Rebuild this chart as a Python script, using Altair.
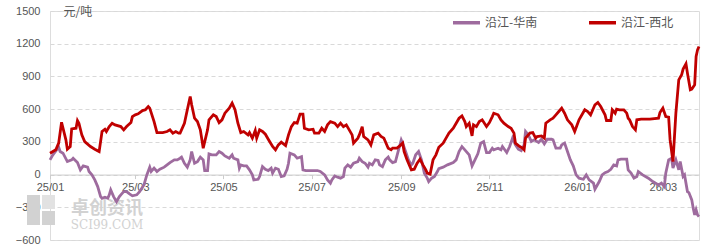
import altair as alt
import pandas as pd

# ---------------- data ----------------
series_names = ["沿江-华南", "沿江-西北"]
series_colors = ["#9E6B9E", "#C00000"]

xb_dates = [
    "2025-01-01", "2025-01-05", "2025-01-07", "2025-01-09", "2025-01-12", "2025-01-13", "2025-01-15",
    "2025-01-16", "2025-01-19", "2025-01-20", "2025-01-21", "2025-01-23", "2025-01-25", "2025-01-29",
    "2025-02-01", "2025-02-04", "2025-02-06", "2025-02-08", "2025-02-09", "2025-02-11", "2025-02-13",
    "2025-02-15", "2025-02-19", "2025-02-21", "2025-02-23", "2025-02-26", "2025-02-27", "2025-03-01",
    "2025-03-03", "2025-03-06", "2025-03-08", "2025-03-10", "2025-03-11", "2025-03-14", "2025-03-16",
    "2025-03-20", "2025-03-23", "2025-03-25", "2025-03-27", "2025-03-29", "2025-03-31", "2025-04-01",
    "2025-04-04", "2025-04-06", "2025-04-08", "2025-04-09", "2025-04-11", "2025-04-13", "2025-04-15",
    "2025-04-17", "2025-04-20", "2025-04-21", "2025-04-24", "2025-04-26", "2025-04-28", "2025-04-30",
    "2025-05-02", "2025-05-05", "2025-05-07", "2025-05-09", "2025-05-11", "2025-05-13", "2025-05-15",
    "2025-05-18", "2025-05-19", "2025-05-21", "2025-05-23", "2025-05-24", "2025-05-26", "2025-05-28",
    "2025-05-30", "2025-06-01", "2025-06-04", "2025-06-06", "2025-06-08", "2025-06-10", "2025-06-13",
    "2025-06-15", "2025-06-17", "2025-06-19", "2025-06-21", "2025-06-23", "2025-06-25", "2025-06-26",
    "2025-06-29", "2025-07-02", "2025-07-03", "2025-07-06", "2025-07-08", "2025-07-10", "2025-07-12",
    "2025-07-14", "2025-07-17", "2025-07-19", "2025-07-21", "2025-07-23", "2025-07-25", "2025-07-27",
    "2025-07-29", "2025-07-30", "2025-08-02", "2025-08-03", "2025-08-05", "2025-08-06", "2025-08-09",
    "2025-08-11", "2025-08-13", "2025-08-16", "2025-08-18", "2025-08-20", "2025-08-23", "2025-08-25",
    "2025-08-26", "2025-08-29", "2025-08-31", "2025-09-02", "2025-09-03", "2025-09-05", "2025-09-08",
    "2025-09-10", "2025-09-12", "2025-09-14", "2025-09-16", "2025-09-18", "2025-09-19", "2025-09-21",
    "2025-09-23", "2025-09-25", "2025-09-27", "2025-09-30", "2025-10-02", "2025-10-04", "2025-10-07",
    "2025-10-09", "2025-10-11", "2025-10-13", "2025-10-15", "2025-10-16", "2025-10-18", "2025-10-20",
    "2025-10-21", "2025-10-23", "2025-10-25", "2025-10-27", "2025-10-30", "2025-11-01", "2025-11-03",
    "2025-11-04", "2025-11-07", "2025-11-09", "2025-11-11", "2025-11-14", "2025-11-16", "2025-11-18",
    "2025-11-19", "2025-11-22", "2025-11-24", "2025-11-25", "2025-11-26", "2025-11-29", "2025-12-01",
    "2025-12-03", "2025-12-04", "2025-12-07", "2025-12-09", "2025-12-10", "2025-12-13", "2025-12-15",
    "2025-12-17", "2025-12-19", "2025-12-21", "2025-12-23", "2025-12-25", "2025-12-28", "2025-12-30",
    "2026-01-02", "2026-01-06", "2026-01-08", "2026-01-10", "2026-01-13", "2026-01-15", "2026-01-17",
    "2026-01-20", "2026-01-21", "2026-01-24", "2026-01-25", "2026-01-27", "2026-01-28", "2026-01-30",
    "2026-02-02", "2026-02-04", "2026-02-05", "2026-02-06", "2026-02-08", "2026-02-10", "2026-02-11",
    "2026-02-14", "2026-02-20", "2026-02-26", "2026-02-27", "2026-03-01", "2026-03-03", "2026-03-05",
    "2026-03-06", "2026-03-08", "2026-03-10", "2026-03-12", "2026-03-14", "2026-03-15", "2026-03-17",
    "2026-03-18", "2026-03-20", "2026-03-21", "2026-03-23", "2026-03-24", "2026-03-25", "2026-03-26",
]
xb_values = [
    196, 227, 288, 480, 318, 233, 257,
    419, 425, 495, 471, 364, 303, 257,
    233, 211, 395, 416, 395, 440, 471,
    456, 440, 410, 440, 477, 532, 548,
    557, 587, 594, 624, 609, 486, 385,
    385, 395, 410, 380, 395, 380, 380,
    471, 594, 716, 640, 517, 486, 410,
    242, 410, 502, 548, 532, 477, 502,
    563, 609, 655, 594, 471, 385, 395,
    364, 385, 334, 404, 334, 410, 395,
    370, 324, 257, 227, 272, 297, 266,
    364, 440, 477, 471, 554, 554, 425,
    410, 416, 380, 380, 425, 395, 456,
    486, 471, 440, 471, 440, 456, 410,
    364, 288, 334, 364, 440, 349, 318,
    272, 364, 380, 349, 334, 242, 227,
    242, 242, 263, 288, 211, 135, 43,
    49, 104, 141, 89, 43, 13, 4,
    135, 181, 250, 288, 334, 380, 425,
    471, 517, 538, 486, 440, 471, 355,
    456, 440, 486, 502, 440, 477, 532,
    563, 548, 502, 471, 440, 425, 380,
    288, 257, 242, 227, 334, 380, 385,
    334, 349, 355, 334, 471, 502, 517,
    548, 578, 609, 563, 502, 456, 395,
    502, 594, 578, 548, 640, 661, 624,
    548, 496, 496, 594, 563, 600, 594,
    594, 563, 517, 502, 440, 410, 502,
    508, 508, 517, 569, 609, 532, 526,
    318, 119, 563, 869, 915, 967, 1016,
    930, 777, 783, 823, 1083, 1144, 1174,
]

hn_dates = [
    "2025-01-01", "2025-01-03", "2025-01-07", "2025-01-08", "2025-01-10", "2025-01-13", "2025-01-16",
    "2025-01-17", "2025-01-20", "2025-01-22", "2025-01-24", "2025-01-27", "2025-01-28", "2025-01-30",
    "2025-02-01", "2025-02-03", "2025-02-05", "2025-02-06", "2025-02-08", "2025-02-10", "2025-02-11",
    "2025-02-12", "2025-02-14", "2025-02-16", "2025-02-18", "2025-02-19", "2025-02-21", "2025-02-23",
    "2025-02-25", "2025-02-27", "2025-03-02", "2025-03-04", "2025-03-07", "2025-03-09", "2025-03-11",
    "2025-03-12", "2025-03-14", "2025-03-16", "2025-03-18", "2025-03-21", "2025-03-23", "2025-03-25",
    "2025-03-28", "2025-03-30", "2025-04-01", "2025-04-02", "2025-04-04", "2025-04-06", "2025-04-08",
    "2025-04-09", "2025-04-11", "2025-04-13", "2025-04-15", "2025-04-17", "2025-04-18", "2025-04-20",
    "2025-04-21", "2025-04-23", "2025-04-26", "2025-04-28", "2025-04-30", "2025-05-02", "2025-05-05",
    "2025-05-07", "2025-05-08", "2025-05-11", "2025-05-12", "2025-05-13", "2025-05-15", "2025-05-17",
    "2025-05-19", "2025-05-21", "2025-05-22", "2025-05-25", "2025-05-26", "2025-05-28", "2025-05-30",
    "2025-06-01", "2025-06-03", "2025-06-04", "2025-06-06", "2025-06-08", "2025-06-10", "2025-06-12",
    "2025-06-14", "2025-06-15", "2025-06-16", "2025-06-19", "2025-06-21", "2025-06-24", "2025-06-25",
    "2025-06-27", "2025-07-02", "2025-07-05", "2025-07-07", "2025-07-10", "2025-07-12", "2025-07-14",
    "2025-07-15", "2025-07-17", "2025-07-19", "2025-07-21", "2025-07-23", "2025-07-24", "2025-07-26",
    "2025-07-28", "2025-07-30", "2025-08-02", "2025-08-03", "2025-08-05", "2025-08-07", "2025-08-09",
    "2025-08-10", "2025-08-12", "2025-08-14", "2025-08-16", "2025-08-17", "2025-08-19", "2025-08-21",
    "2025-08-23", "2025-08-24", "2025-08-26", "2025-08-28", "2025-08-30", "2025-09-01", "2025-09-02",
    "2025-09-04", "2025-09-06", "2025-09-08", "2025-09-09", "2025-09-11", "2025-09-13", "2025-09-15",
    "2025-09-17", "2025-09-19", "2025-09-20", "2025-09-22", "2025-09-24", "2025-09-26", "2025-09-27",
    "2025-09-30", "2025-10-03", "2025-10-07", "2025-10-09", "2025-10-11", "2025-10-13", "2025-10-15",
    "2025-10-18", "2025-10-20", "2025-10-22", "2025-10-24", "2025-10-26", "2025-10-28", "2025-10-30",
    "2025-11-01", "2025-11-03", "2025-11-04", "2025-11-07", "2025-11-09", "2025-11-10", "2025-11-13",
    "2025-11-15", "2025-11-17", "2025-11-19", "2025-11-21", "2025-11-23", "2025-11-25", "2025-11-26",
    "2025-11-28", "2025-11-30", "2025-12-02", "2025-12-05", "2025-12-07", "2025-12-09", "2025-12-11",
    "2025-12-14", "2025-12-15", "2025-12-17", "2025-12-20", "2025-12-21", "2025-12-23", "2025-12-25",
    "2025-12-27", "2025-12-29", "2025-12-31", "2026-01-02", "2026-01-05", "2026-01-07", "2026-01-09",
    "2026-01-12", "2026-01-13", "2026-01-16", "2026-01-18", "2026-01-20", "2026-01-22", "2026-01-24",
    "2026-01-26", "2026-01-28", "2026-01-29", "2026-01-31", "2026-02-04", "2026-02-05", "2026-02-07",
    "2026-02-09", "2026-02-11", "2026-02-12", "2026-02-15", "2026-02-19", "2026-02-22", "2026-02-26",
    "2026-02-28", "2026-03-02", "2026-03-03", "2026-03-05", "2026-03-07", "2026-03-08", "2026-03-10",
    "2026-03-12", "2026-03-13", "2026-03-15", "2026-03-16", "2026-03-18", "2026-03-19", "2026-03-21",
    "2026-03-22", "2026-03-23", "2026-03-24", "2026-03-25", "2026-03-26",
]
hn_values = [
    135, 181, 251, 211, 196, 119, 135,
    150, 110, 43, 80, 68, 28, -3,
    -49, -110, -202, -217, -207, -217, -186,
    -140, -202, -248, -202, -186, -156, -156,
    -177, -195, -186, -156, -95, -3, 68,
    28, 59, 28, 49, 68, 89, 110,
    135, 135, 150, 160, 104, 68, 135,
    211, 104, 119, 160, 135, 37, 37,
    190, 181, 181, 211, 196, 171, 150,
    181, 150, 135, 59, 89, 80, 80,
    43, -3, -49, -43, -18, 73, 49,
    37, 59, 13, 59, 49, -18, -12,
    49, 104, 196, 181, 150, 165, 43,
    37, 37, 37, 28, -3, -49, -79,
    -49, -12, -24, -33, -18, 59, 89,
    68, 104, 119, 150, 119, 104, 68,
    104, 89, 135, 129, 89, 73, 135,
    160, 135, 110, 119, 220, 318, 288,
    211, 135, 89, 104, 181, 211, 135,
    13, -33, -64, -33, -18, 28, 55,
    68, 89, 110, 135, 211, 257, 227,
    181, 80, 135, 190, 288, 303, 202,
    202, 242, 227, 242, 227, 257, 202,
    257, 334, 272, 233, 220, 272, 395,
    364, 303, 318, 294, 324, 282, 324,
    324, 318, 242, 242, 272, 288, 211,
    135, 80, -3, -33, -43, -3, -49,
    -79, -134, -64, -3, 18, 28, 49,
    89, 80, 135, 141, 141, 43, 13,
    -33, -18, 28, -3, -33, -64, -95,
    -79, -110, 13, 135, 150, 59, 135,
    43, 119, -18, -3, -156, -165, -232,
    -308, -370, -324, -370, -385,
]

y_ticks = [-600, -300, 0, 300, 600, 900, 1200, 1500]
x_tick_months = [(2025, 1), (2025, 3), (2025, 5), (2025, 7), (2025, 9), (2025, 11), (2026, 1), (2026, 3)]
x_start = (2025, 1, 1)
x_end = (2026, 3, 26)

# ---------------- build table ----------------
df = pd.concat([
    pd.DataFrame({"date": hn_dates, "value": hn_values, "series": series_names[0]}),
    pd.DataFrame({"date": xb_dates, "value": xb_values, "series": series_names[1]}),
], ignore_index=True)

W, H = 649, 229
ymin, ymax = y_ticks[0], y_ticks[-1]
zero_offset = -H * (0 - ymin) / (ymax - ymin)

FONT = "Noto Sans CJK SC"
NUMFONT = "Liberation Sans"
TXT = "#555555"


def dt(y, m, d):
    return alt.DateTime(year=y, month=m, date=d, utc=True)


x_enc = alt.X(
    "date:T",
    scale=alt.Scale(type="utc", domain=[dt(*x_start), dt(*x_end)], nice=False),
    axis=alt.Axis(
        values=[dt(y, m, 1) for (y, m) in x_tick_months],
        labelExpr="utcFormat(datum.value, '%y/%m')",
        title=None,
        grid=False,
        offset=zero_offset,
        domainColor="#cccccc",
        tickColor="#cccccc",
        tickSize=4,
        labelPadding=3,
        labelColor=TXT,
        labelFontSize=11,
        labelFont=NUMFONT,
        labelFlush=False,
    ),
)

y_enc = alt.Y(
    "value:Q",
    scale=alt.Scale(domain=[ymin, ymax], nice=False, zero=False),
    axis=alt.Axis(
        values=y_ticks,
        format="d",
        grid=True,
        gridDash=[4, 3],
        gridColor="#d9d9d9",
        domain=False,
        ticks=False,
        labelPadding=10,
        labelColor=TXT,
        labelFontSize=11,
        labelFont=NUMFONT,
        title="元/吨",
        titleAngle=0,
        titleX=13,
        titleY=0,
        titleAlign="left",
        titleBaseline="middle",
        titleFontWeight="normal",
        titleFontSize=12,
        titleFont=FONT,
        titleColor=TXT,
    ),
)

lines = alt.Chart(df).mark_line(strokeWidth=2.8).encode(
    x=x_enc,
    y=y_enc,
    color=alt.Color(
        "series:N",
        scale=alt.Scale(domain=series_names, range=series_colors),
        legend=alt.Legend(
            title=None,
            orient="none",
            legendX=401,
            legendY=-4,
            direction="horizontal",
            symbolType="stroke",
            symbolSize=729,
            symbolStrokeWidth=3.5,
            labelFontSize=12,
            labelFont=FONT,
            labelColor=TXT,
            labelOffset=3,
            columnPadding=44,
        ),
    ),
    detail="series:N",
)

# watermark (decorative)
wm_data = pd.DataFrame({"k": [0]})
WM = "#d2d2d2"
wm_cn = alt.Chart(wm_data).mark_text(
    text="卓创资讯", font=FONT, fontSize=18, fontWeight="bold", color=WM, align="center", baseline="middle"
).encode(x=alt.value(57), y=alt.value(198))
wm_en = alt.Chart(wm_data).mark_text(
    text="SCI99.COM", font="DejaVu Serif", fontSize=12, color=WM, align="center", baseline="middle"
).encode(x=alt.value(57), y=alt.value(214))
wm_r1 = alt.Chart(wm_data).mark_rect(color=WM).encode(
    x=alt.value(-23), x2=alt.value(-10), y=alt.value(184), y2=alt.value(214))
wm_r2 = alt.Chart(wm_data).mark_rect(color=WM).encode(
    x=alt.value(-8), x2=alt.value(5), y=alt.value(200), y2=alt.value(214))
wm_r3 = alt.Chart(wm_data).mark_rect(color="#e2e2e2").encode(
    x=alt.value(-8), x2=alt.value(5), y=alt.value(184), y2=alt.value(198))

chart = alt.layer(wm_r1, wm_r2, wm_r3, wm_cn, wm_en, lines).properties(
    width=W,
    height=H,
    autosize=alt.AutoSizeParams(type="none"),
    padding={"left": 50, "top": 11, "right": 3, "bottom": 10},
).configure_view(stroke=None).configure(background="white")

chart.save("out.html", embed_options={"renderer": "svg", "actions": False})
